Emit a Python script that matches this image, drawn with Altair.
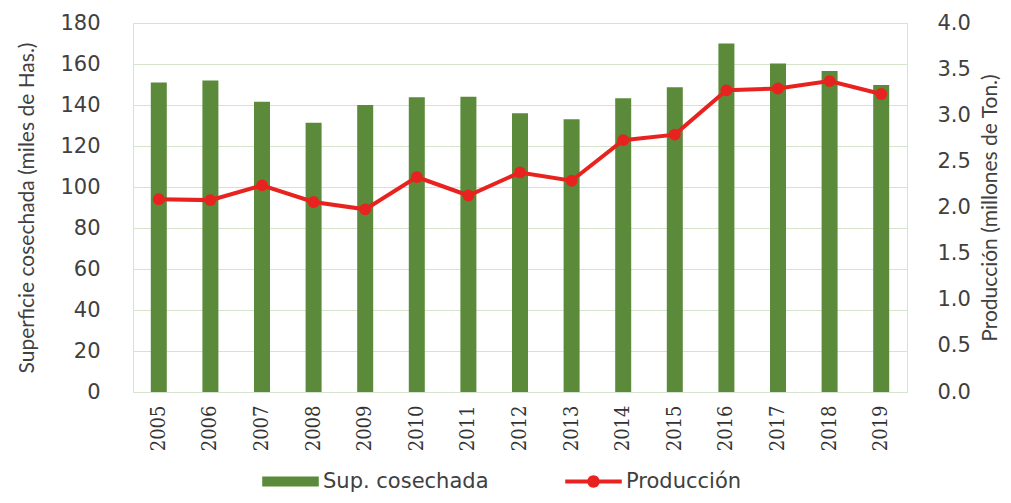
import altair as alt
import pandas as pd

years = [str(y) for y in range(2005, 2020)]
superficie = [151, 152, 141.6, 131.4, 140, 143.8, 144, 136, 133, 143.3, 148.6, 170, 160.3, 156.6, 149.8]
produccion = [2.09, 2.08, 2.24, 2.06, 1.98, 2.33, 2.13, 2.38, 2.29, 2.73, 2.79, 3.27, 3.29, 3.37, 3.23]
series_names = ["Sup. cosechada", "Producción"]
left_ticks = list(range(0, 181, 20))
right_ticks = [0.0, 0.5, 1.0, 1.5, 2.0, 2.5, 3.0, 3.5, 4.0]

GREEN = "#5b8a3a"
RED = "#e8231f"
TXT = "#404040"
BG = "#e2efda"

df = pd.DataFrame({
    "year": years,
    "sup": superficie,
    "prod": produccion,
    "s_bar": series_names[0],
    "s_line": series_names[1],
})

xenc = alt.X("year:O", title=None,
             scale=alt.Scale(paddingInner=0, paddingOuter=0),
             axis=alt.Axis(labelAngle=270, labelFont="DejaVu Serif Condensed", labelFontSize=20,
                           labelColor="#333333", labelPadding=13, domain=False, ticks=False, grid=False))

common_legend = dict(orient="none", direction="horizontal", title=None,
                     labelFont="DejaVu Sans", labelFontSize=21, labelColor=TXT, labelLimit=0,
                     symbolSize=3200, labelOffset=4, symbolStrokeWidth=0, legendY=430)

bar_legend = alt.Legend(symbolType="M-1,-0.18H1V0.18H-1Z", symbolFillColor=GREEN,
                        legendX=129, **common_legend)
line_legend = alt.Legend(
    symbolType="M-1,-0.07H1V0.07H-1Z M0.22,0A0.22,0.22 0 1,1 -0.22,0A0.22,0.22 0 1,1 0.22,0Z",
    symbolFillColor=RED, symbolStrokeColor=RED, legendX=432, **common_legend)

bars = alt.Chart(df).mark_bar(size=16).encode(
    x=xenc,
    y=alt.Y("sup:Q", title="Superficie cosechada (miles de Has.)",
            scale=alt.Scale(domain=[0, 180], nice=False),
            axis=alt.Axis(values=left_ticks, orient="left", labelFont="DejaVu Sans", labelFontSize=21,
                          labelColor=TXT, labelPadding=33, domain=False, ticks=False,
                          grid=True, gridColor="#d6e4cc", gridWidth=1,
                          titleFont="Lato", titleFontSize=21, titleFontWeight="normal",
                          titleColor=TXT, titlePadding=22)),
    fill=alt.Fill("s_bar:N", scale=alt.Scale(domain=[series_names[0]], range=[GREEN]), legend=bar_legend),
)

line_base = alt.Chart(df).encode(
    x=xenc,
    y=alt.Y("prod:Q", title="Producción (millones de Ton.)",
            scale=alt.Scale(domain=[0, 4], nice=False),
            axis=alt.Axis(values=right_ticks, format=".1f", orient="right", labelFont="DejaVu Sans",
                          labelFontSize=21, labelColor=TXT, labelPadding=30, domain=False, ticks=False,
                          grid=False, titleFont="Lato", titleFontSize=21, titleFontWeight="normal",
                          titleColor=TXT, titlePadding=30, titleAngle=270)),
)
line = line_base.mark_line(strokeWidth=4).encode(
    stroke=alt.Stroke("s_line:N", scale=alt.Scale(domain=[series_names[1]], range=[RED]), legend=line_legend))
pts = line_base.mark_point(filled=True, size=140, opacity=1, color=RED)

lines = alt.layer(line, pts)

chart = alt.layer(bars, lines).resolve_scale(y="independent").properties(
    width=774, height=369,
    autosize=alt.AutoSizeParams(type="none"),
    padding={"left": 125, "top": 15, "right": 96, "bottom": 102},
).configure_view(fill=BG, strokeWidth=0, strokeOpacity=0).configure_axis(
    domain=False
).configure_axisX(grid=False).configure(background="white")

chart.save("out.html", embed_options={"renderer": "svg", "actions": False})
